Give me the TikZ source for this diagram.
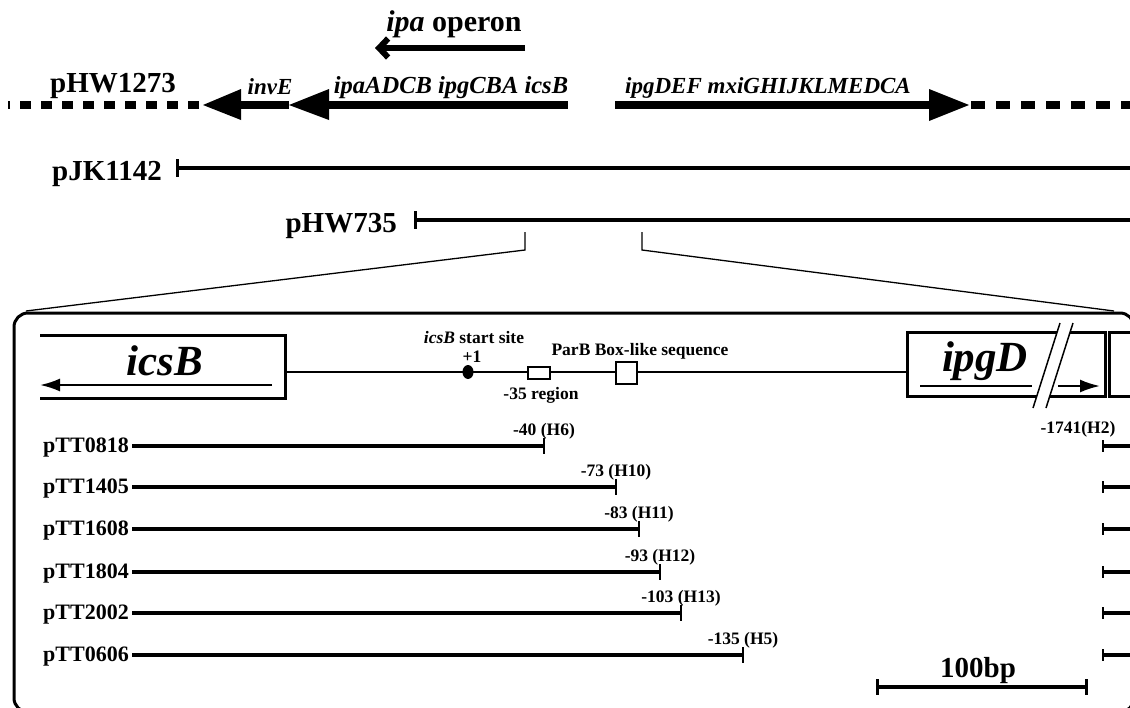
\documentclass[tikz,border=0pt]{standalone}
\usepackage{fontspec}
\setmainfont{Liberation Serif}
\usetikzlibrary{arrows.meta, positioning}

\newcommand{\fsz}[1]{\fontsize{#1}{#1}\selectfont\bfseries}

\tikzset{
    plasmid/.style={font=\fsz{29}, inner sep=0pt},
    genetag/.style={font=\fsz{23}\itshape, inner sep=0pt, anchor=base},
    smalltag/.style={font=\fsz{17.5}, inner sep=0pt, anchor=base},
    clonetag/.style={font=\fsz{22}, inner sep=0pt, anchor=base east},
    biggene/.style={font=\fsz{43}\itshape, inner sep=0pt, anchor=base},
    mapline/.style={line width=4.5pt},
    fragline/.style={line width=3.5pt},
    genebar/.style={line width=7.5pt},
    dashbar/.style={line width=7.5pt, dash pattern=on 11pt off 10pt},
    endtick/.style={line width=2.5pt},
}

\begin{document}
\begin{tikzpicture}[x=1pt, y=-1pt]
    \useasboundingbox (0,0) rectangle (1130,707);

    % ipa operon direction
    \node[font=\fsz{30}, inner sep=0pt, anchor=base] (operon) at (454,31) {\textit{ipa} operon};
    \coordinate (opR) at (525,48);
    \coordinate (opL) at (375,48);
    \draw[line width=6pt, -{Straight Barb[length=9pt, width=19pt]}] (opR) -- (opL);

    % pHW1273 map
    \node[plasmid, anchor=base] (hw1273) at (113,92) {pHW1273};
    \coordinate (dashL) at (8,105);
    \coordinate (invTip) at (203,105);
    \coordinate (invBase) at (241,105);
    \coordinate (ipaTip) at (289,105);
    \coordinate (ipaBase) at (329,105);
    \coordinate (ipaEnd) at (568,105);
    \draw[dashbar] (199,105) -- (dashL);
    \fill (invTip) -- (241,89) -- (241,120) -- cycle;
    \draw[genebar] (invBase) -- (ipaTip);
    \fill (ipaTip) -- (329,89) -- (329,120) -- cycle;
    \draw[genebar] (ipaBase) -- (ipaEnd);
    \node[genetag] (invE) at (270,94) {invE};
    \node[genetag, font=\fsz{24.5}\itshape] (ipaG) at (451,93) {ipaADCB ipgCBA icsB};

    \coordinate (mxiStart) at (615,105);
    \coordinate (mxiBase) at (930,105);
    \coordinate (mxiTip) at (969,105);
    \draw[genebar] (mxiStart) -- (mxiBase);
    \fill (mxiTip) -- (929,89) -- (929,121) -- cycle;
    \draw[line width=7.5pt, dash pattern=on 14pt off 11pt] (971,105) -- (1136,105);
    \node[genetag] (mxiG) at (768,93) {ipgDEF mxiGHIJKLMEDCA};

    % pJK1142 and pHW735
    \coordinate (jkS) at (177,168);
    \draw[mapline] (jkS) -- (1136,168);
    \draw[endtick, line width=3pt] ([yshift=9pt]jkS) -- ([yshift=-9pt]jkS);
    \node[plasmid, anchor=base east] (jk1142) at (162,180) {pJK1142};

    \coordinate (hwS) at (415,220);
    \draw[mapline] (hwS) -- (1136,220);
    \draw[endtick, line width=3pt] ([yshift=9pt]hwS) -- ([yshift=-9pt]hwS);
    \node[plasmid, anchor=base east] (hw735) at (397,232) {pHW735};

    % zoom lines
    \coordinate (zL) at (525,232);
    \coordinate (zR) at (642,232);
    \draw[line width=1.3pt] (zL) -- (525,250) -- (26,311);
    \draw[line width=1.3pt] (zR) -- (642,250) -- (1114,311);

    % enlarged region
    \draw[line width=3pt, rounded corners=14pt] (14,313) rectangle (1134,712);

    \draw[line width=3pt] (40,335) -- (285,335) -- (285,398) -- (40,398);
    \node[biggene] (icsB) at (165,375) {icsB};
    \draw[line width=2.2pt, -{Latex[length=20pt, width=13pt]}] (272,385) -- (40,385);

    \draw[line width=2.5pt] (285,372) -- (907,372);
    \fill (468,372) ellipse (5.5pt and 7pt);
    \node[smalltag] (plus1) at (472,362) {+1};
    \node[smalltag] (start) at (474,343) {\textit{icsB} start site};
    \draw[line width=1.5pt, fill=white] (528,367) rectangle (550,379);
    \node[smalltag] (m35) at (541,399) {-35 region};
    \draw[line width=1.5pt, fill=white] (616,362) rectangle (637,384);
    \node[smalltag] (parB) at (640,355) {ParB Box-like sequence};

    \draw[line width=3pt] (907,332) rectangle (1105,396);
    \draw[line width=3pt] (1109,332) rectangle (1145,396);
    \node[biggene] (ipgD) at (985,371) {ipgD};
    \draw[line width=2.2pt] (920,386) -- (1032,386);
    \draw[line width=2.2pt, -{Latex[length=20pt, width=13pt]}] (1058,386) -- (1100,386);
    \fill[white] (1033,408) -- (1060,323) -- (1073,323) -- (1046,408) -- cycle;
    \draw[line width=1.5pt] (1033,408) -- (1060,323);
    \draw[line width=1.5pt] (1046,408) -- (1073,323);

    % deletion clones
    \foreach \clone/\ry/\ex/\tag in {pTT0818/446/544/{-40 (H6)}, pTT1405/487/616/{-73 (H10)},
        pTT1608/529/639/{-83 (H11)}, pTT1804/572/660/{-93 (H12)},
        pTT2002/613/681/{-103 (H13)}, pTT0606/655/743/{-135 (H5)}}{
        \node[clonetag] (\clone) at (129,\ry+6) {\clone};
        \coordinate (\clone-s) at (132,\ry);
        \coordinate (\clone-e) at (\ex,\ry);
        \draw[fragline] (\clone-s) -- (\clone-e);
        \draw[endtick] ([yshift=8pt]\clone-e) -- ([yshift=-8pt]\clone-e);
        \node[smalltag] at ([yshift=11pt]\clone-e) {\tag};
        \coordinate (\clone-r) at (1103,\ry);
        \draw[fragline] (\clone-r) -- (1136,\ry);
        \draw[endtick] ([yshift=6pt]\clone-r) -- ([yshift=-6pt]\clone-r);
    }
    \node[smalltag] (h2) at (1078,433) {-1741(H2)};

    % scale bar
    \coordinate (sbL) at (877,687);
    \coordinate (sbR) at (1086,687);
    \draw[line width=3.5pt] (sbL) -- (sbR);
    \draw[endtick, line width=3pt] ([yshift=8pt]sbL) -- ([yshift=-8pt]sbL);
    \draw[endtick, line width=3pt] ([yshift=8pt]sbR) -- ([yshift=-8pt]sbR);
    \node[plasmid, anchor=base] (bar) at (978,677) {100bp};
\end{tikzpicture}
\end{document}
